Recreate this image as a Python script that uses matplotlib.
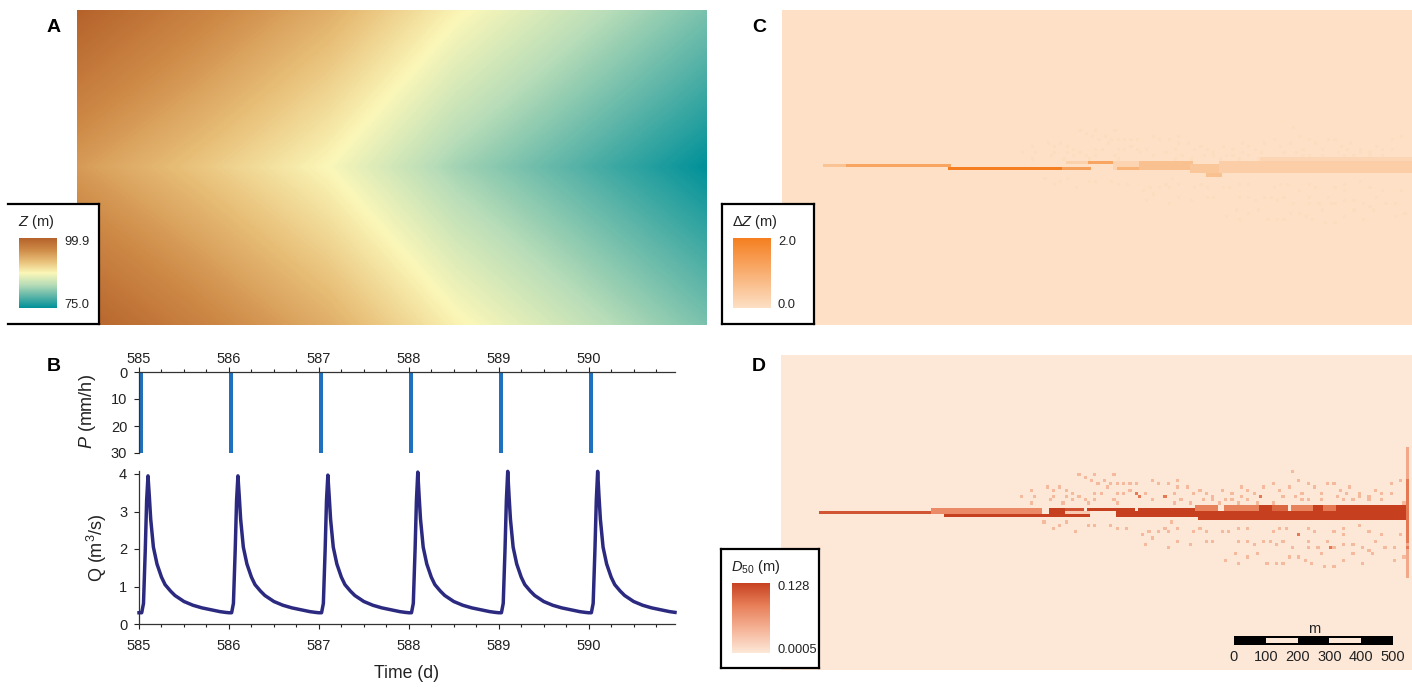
import matplotlib
matplotlib.use('Agg')
import matplotlib.pyplot as plt
from matplotlib.colors import LinearSegmentedColormap
from matplotlib.ticker import MultipleLocator
import numpy as np

plt.rcParams['font.family'] = ['Liberation Sans', 'DejaVu Sans']
plt.rcParams['mathtext.fontset'] = 'custom'
plt.rcParams['mathtext.rm'] = 'Liberation Sans'
plt.rcParams['mathtext.it'] = 'Liberation Sans:italic'

W, H = 1412, 688

# panel A, elevation read at a coarse grid of the map, every 20 % of width and 25 % of height
z_grid = [[99.9, 96.5, 92.9, 87.9, 84.2, 80.5],
          [97.2, 93.8, 90.1, 85.2, 81.5, 77.8],
          [94.4, 91.0, 87.4, 82.4, 78.7, 75.0],
          [97.2, 93.8, 90.1, 85.2, 81.5, 77.8],
          [99.9, 96.5, 92.9, 87.9, 84.2, 80.5]]

# panel B
days = [585, 586, 587, 588, 589, 590]
rain = [30, 30, 30, 30, 30, 30]
peaks = [3.95, 3.95, 3.97, 4.05, 4.07, 4.07]
cycle_t = [0, .03, .05, .07, .085, .1, .115, .13, .16, .2, .25, .29, .35, .4, .5, .6, .7, .8, .9, .96]
cycle_q = [.30, .30, .55, 2.0, 3.3, 3.95, 3.4, 2.8, 2.05, 1.6, 1.25, 1.05, .88, .76, .6, .5, .43, .38, .33, .31]

# panels C and D: cells of the 198 x 99 map, (col0, col1, row0, row1, value)
c_cells = [(13, 52, 48, 48, .6), (13, 19, 48, 48, .3), (52, 88, 49, 49, 1), (88, 96, 49, 49, .65), (89, 96, 47, 47, .15),
           (96, 104, 47, 47, .6), (104, 112, 47, 49, .12), (105, 112, 49, 49, .45), (112, 128, 47, 49, .32),
           (128, 137, 48, 50, .25), (133, 137, 51, 51, .32), (137, 197, 47, 50, .18), (150, 197, 46, 46, .1)]
d_cells = [(12, 47, 49, 49, .88), (47, 81, 48, 49, .6), (51, 84, 50, 50, 1), (84, 88, 48, 50, 1),
           (89, 96, 50, 50, 1), (89, 94, 48, 48, .9), (89, 96, 49, 49, .2), (96, 110, 48, 48, 1), (105, 112, 49, 50, 1),
           (112, 131, 48, 50, 1), (131, 195, 49, 51, 1), (130, 136, 47, 48, .65), (139, 150, 47, 48, .65),
           (150, 154, 47, 48, 1), (154, 158, 47, 48, .8), (160, 167, 47, 48, .65), (167, 170, 47, 48, 1),
           (170, 174, 47, 48, .7), (174, 195, 47, 48, 1), (196, 196, 29, 69, .4), (196, 196, 39, 58, .7)]
dot_col = [104, 101, 103, 105, 107, 109, 111, 116, 118, 121, 124, 127, 100, 102, 105, 107, 109, 111, 112, 114,
           116, 120, 123, 124, 123, 125, 128, 129, 131, 133, 135, 138, 141, 144, 146, 148, 151, 154, 156, 160,
           162, 165, 167, 171, 173, 175, 178, 181, 186, 191, 194, 188, 191, 184, 177, 169, 163, 159, 150, 144,
           139, 137, 135, 132, 143, 149, 154, 163, 169, 165, 174, 176, 179, 181, 184, 188, 195, 157, 161, 146,
           141, 105, 104,
           103, 105, 108, 113, 115, 118, 120, 122, 124, 124, 121, 114, 116, 121, 128, 129, 131, 133, 135, 133,
           138, 140, 143, 146, 143, 146, 148, 151, 153, 155, 154, 156, 158, 157, 160, 162, 165, 167, 165, 165,
           168, 169, 172, 171, 173, 176, 176, 176, 173, 179, 181, 184, 186, 188, 189, 184, 182, 179, 192, 194,
           142, 139, 143, 146, 149, 152, 155, 157, 159, 162, 164, 166, 170, 173, 176, 182, 185, 192, 195,
           93, 95, 98, 97, 99, 83, 87, 78, 85, 89, 91, 98, 75, 79, 85, 89, 93, 84, 91, 95, 98, 78, 88, 96,
           82, 89, 87, 85, 92, 96, 98]
dot_row = [37, 39, 40, 40, 40, 40, 40, 39, 40, 40, 39, 41, 43, 41, 43, 43, 42, 43, 44, 43,
           45, 44, 43, 41, 46, 45, 46, 43, 42, 43, 44, 42, 43, 41, 42, 43, 41, 40, 42, 36,
           39, 40, 41, 40, 40, 42, 41, 43, 42, 40, 39, 43, 43, 44, 43, 43, 43, 41, 44, 44,
           45, 46, 45, 45, 46, 46, 46, 45, 45, 45, 44, 45, 45, 44, 45, 45, 46, 44, 44, 45,
           45, 46, 45,
           53, 54, 54, 56, 55, 55, 54, 52, 54, 58, 55, 59, 57, 60, 59, 55, 54, 55, 58, 58,
           55, 55, 54, 54, 58, 58, 59, 58, 58, 59, 55, 54, 54, 58, 60, 56, 54, 55, 58, 60,
           60, 62, 60, 58, 55, 54, 56, 59, 60, 62, 53, 55, 58, 56, 60, 61, 60, 59, 60, 56,
           62, 64, 65, 63, 62, 65, 65, 65, 63, 63, 64, 65, 66, 66, 64, 65, 62, 64, 63,
           37, 38, 37, 39, 40, 41, 41, 42, 42, 42, 43, 43, 44, 44, 44, 44, 44, 45, 45, 45, 45, 46, 46, 46,
           52, 52, 53, 54, 55, 53, 53]
dark_col = [112, 120, 150, 162, 172, 111, 196]
dark_row = [44, 44, 44, 56, 60, 43, 60]

# scale bar
bar_ticks = [0, 100, 200, 300, 400, 500]
bar_white = [(100, 200), (300, 400)]

z_cmap = LinearSegmentedColormap.from_list('z', ['#009199', '#5DB5A8', '#B8DDB8', '#FBF7B8', '#E8BF78', '#CE8A47', '#B5622A'])
c_cmap = LinearSegmentedColormap.from_list('c', ['#FDE0C5', '#F57F20'])
d_cmap = LinearSegmentedColormap.from_list('d', ['#FDE8D8', '#F5B498', '#E8805A', '#C63F1F'])


def px_axes(l, t, r, b):
    return fig.add_axes([l / W, 1 - b / H, (r - l) / W, (b - t) / H])


def px_text(x, y, s, **kw):
    kw.setdefault('fontsize', 10)
    kw.setdefault('va', 'center')
    kw.setdefault('color', '#222222')
    kw.setdefault('zorder', 10)
    fig.text(x / W, 1 - y / H, s, **kw)


def make_raster(cells):
    grid = np.zeros((99, 198))
    for c0, c1, r0, r1, v in cells:
        grid[r0:r1 + 1, c0:c1 + 1] = v
    return grid


def map_panel(l, t, r, b, grid, cmap, shift=0):
    ax = px_axes(l, t, r, b)
    ax.imshow(grid, cmap=cmap, vmin=0, vmax=1, aspect='auto', interpolation='nearest')
    ax.set_ylim(98.5 - shift, -.5 - shift)
    ax.set_facecolor(cmap(0))
    ax.set_xticks([])
    ax.set_yticks([])
    for s in ax.spines.values():
        s.set_visible(False)
    return ax


def legend_box(l, t, r, b, cmap, title, top, bottom, left_line=True):
    box = px_axes(l, t, r, b)
    box.set_xticks([])
    box.set_yticks([])
    for s in box.spines.values():
        s.set_linewidth(1.6)
        s.set_color('black')
    box.spines['left'].set_visible(left_line)
    box.set_zorder(5)
    grad = px_axes(l + 11, t + 34, l + 49, t + 104)
    grad.imshow(np.linspace(1, 0, 256)[:, None], cmap=cmap, aspect='auto')
    grad.axis('off')
    grad.set_zorder(6)
    px_text(l + 10, t + 18, title, fontsize=10.5)
    px_text(l + 56, t + 38, top, fontsize=9.3)
    px_text(l + 56, t + 101, bottom, fontsize=9.3)


fig = plt.figure(figsize=(W / 100, H / 100), dpi=100)

# A
ax = px_axes(77, 10, 707, 325)
ax.imshow(np.array(z_grid), cmap=z_cmap, vmin=75, vmax=99.9, aspect='auto', interpolation='bilinear',
          interpolation_stage='data', extent=(-.5, 5.5, 4.5, -.5))
ax.set_xlim(0, 5)
ax.set_ylim(4, 0)
ax.axis('off')
legend_box(8, 204, 99, 324, z_cmap, r'$\mathit{Z}$ (m)', '99.9', '75.0', left_line=False)

# B rain
axp = px_axes(139, 372, 675, 453)
axp.bar(days, rain, width=.05, align='edge', color='#1F70BE')
axp.set_xlim(585, 590.96)
axp.set_ylim(30, 0)
axp.set_yticks([0, 10, 20, 30])
axp.xaxis.tick_top()
axp.set_xticks(days)
axp.xaxis.set_minor_locator(MultipleLocator(.25))
axp.spines['right'].set_visible(False)
axp.spines['bottom'].set_visible(False)

# B discharge
t_all, q_all = [], []
for d, pk in zip(days, peaks):
    t_all += [d + x for x in cycle_t]
    q_all += [pk if x == .1 else y for x, y in zip(cycle_t, cycle_q)]
axq = px_axes(139, 471, 675, 624)
axq.plot(t_all, q_all, color='#2B2A80', lw=2.5, clip_on=False, solid_joinstyle='round')
axq.set_xlim(585, 590.96)
axq.set_ylim(0, 4.08)
axq.set_yticks([0, 1, 2, 3, 4])
axq.set_xticks(days)
axq.xaxis.set_minor_locator(MultipleLocator(.25))
axq.spines['right'].set_visible(False)
axq.spines['top'].set_visible(False)
for a in (axp, axq):
    a.tick_params(which='major', length=3.5, width=.8, labelsize=10.5, colors='#222222')
    a.tick_params(which='minor', length=2.5, width=.8, colors='#222222')
    a.tick_params(axis='y', pad=5)
    for s in a.spines.values():
        s.set_linewidth(.9)
        s.set_color('#333333')
    a.patch.set_alpha(0)
axp.tick_params(axis='x', pad=1)
axq.tick_params(axis='x', pad=7)

px_text(88, 412, r'$\mathit{P}$ (mm/h)', rotation=90, ha='center', fontsize=13)
px_text(97, 548, 'Q (m$^3$/s)', rotation=90, ha='center', fontsize=13)
px_text(407, 674, 'Time (d)', ha='center', fontsize=12.7)

# C
grid_c = make_raster(c_cells)
for cc, rr in zip(dot_col, dot_row):
    if grid_c[rr, cc] == 0:
        grid_c[rr, cc] = .03
map_panel(782, 10, 1412, 325, grid_c, c_cmap, shift=.35)
legend_box(722, 204, 814, 324, c_cmap, r'$\Delta\mathit{Z}$ (m)', '2.0', '0.0')

# D
grid_d = make_raster(d_cells)
for cc, rr in zip(dot_col, dot_row):
    grid_d[rr, cc] = max(grid_d[rr, cc], .3)
for cc, rr in zip(dark_col, dark_row):
    grid_d[rr, cc] = .7
map_panel(781, 355, 1412, 670, grid_d, d_cmap)
legend_box(721, 549, 819, 668, d_cmap, r'$\mathit{D_{50}}$ (m)', '0.128', '0.0005')

# scale bar
bar = px_axes(1234, 636, 1393, 645)
bar.set_xlim(0, 500)
bar.set_ylim(0, 1)
bar.axis('off')
bar.barh(.5, 500, height=1, color='black')
for x0, x1 in bar_white:
    bar.barh(.5, x1 - x0, left=x0, height=.6, color='#FDE8D8')
for v in bar_ticks:
    px_text(1234 + v * 159 / 500, 657, str(v), ha='center', fontsize=10.5)
px_text(1314, 629, 'm', ha='center', fontsize=10.5)

# panel letters
for s, x, y in [('A', 54, 28), ('B', 54, 367), ('C', 759, 28), ('D', 759, 367)]:
    px_text(x, y, s, ha='center', fontsize=14, fontweight='bold', color='black')

fig.savefig('out.png', dpi=100)
